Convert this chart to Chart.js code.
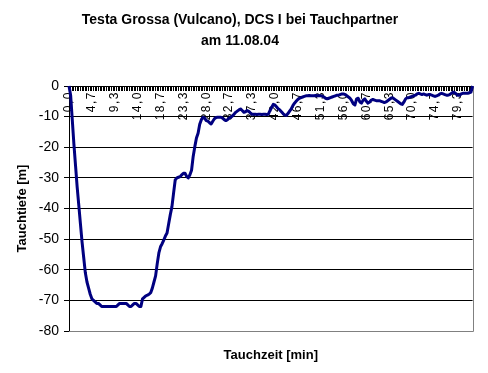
<!DOCTYPE html>
<html>
<head>
<meta charset="utf-8">
<script src="https://cdn.jsdelivr.net/npm/chart.js"></script>
<style>
  html, body { margin: 0; padding: 0; background: #fff; }
</style>
</head>
<body>
<canvas id="diveChart" width="488" height="373"></canvas>
<script>
// depth in metres, one sample every 20 s
const depth = [
  0, -3, -11, -19, -26, -33, -39, -45, -51, -56, -61, -64, -66, -68, -69.5, -70, -70.5, -71, -71, -71.5, -72,
  -72, -72, -72, -72, -72, -72, -72, -72, -72,
  -71.5, -71, -71, -71, -71, -71, -71.5, -72, -72, -71.5, -71, -71, -71.5, -72, -72,
  -69.5, -69, -68.5, -68.3, -68, -67.5, -66, -64, -62, -58, -54.5, -52.5, -51.5, -50.3, -49, -48,
  -45, -42, -39.4, -35, -30.7, -30, -29.8, -29.6, -29, -28.5, -28.5, -29.5, -30, -29, -27.5,
  -23, -19.8, -17, -15.4, -12.5, -11, -10.2, -10.5, -11.3, -11.5, -12, -12.4, -11.5, -10.7, -10.3,
  -10.2, -10.2, -10.2, -10.5, -11, -11.3, -11, -10.5, -10.2, -9.8, -9.2, -8.6, -8.2, -7.8, -7.5,
  -8, -8.6, -8.4, -8, -8.3, -8.8, -9.2, -9.2, -9.2, -9.3, -9.2, -9.2, -9.3, -9.2, -9.2, -9.3,
  -9.2, -8, -7, -6, -6.2, -6.8, -7.4, -7.8, -8.4, -9, -9.5, -9.6, -9, -8.2, -7.5, -6.4, -5.6, -5, -4.4, -4, -3.8, -3.6, -3.4,
  -3.2, -3.2, -3.1, -3.2, -3.2, -3.2, -3.1, -3.2, -3.2, -3.2, -3.3,
  -3.6, -4, -4.2, -4, -3.8, -3.6, -3.4, -3.2, -3, -3, -2.8, -2.6, -2.6, -2.8, -3.2, -3.6, -4,
  -4.8, -5.8, -6.2, -4.2, -4, -5.2, -5.6, -4.6, -4.2, -5, -5.6, -5.2, -4.6, -4.4, -4.6, -4.8,
  -4.8, -4.8, -5, -5.2, -5.4, -5.2, -4.8, -4.4, -4, -3.8, -4.2, -4.6, -5, -5.4, -5.8, -6,
  -5.2, -4.2, -3.8, -3.8, -3.6, -3.4, -3.2, -3, -2.6, -2.4, -2.6, -2.8, -2.6, -2.8, -3,
  -2.8, -2.8, -3, -3.2, -3.4, -3.2, -3, -2.6, -2.4, -2.6, -2.8, -3, -3, -2.8, -2.4,
  -2, -2.2, -2.6, -3, -3, -2.6, -2.4, -2.4, -2.4, -2.4, -2.2, -2, 0
];
// time axis in minutes (German decimal comma)
const times = depth.map((d, i) => (i / 3).toFixed(1).replace('.', ','));
const labelStep = 14;

const titleLines = ['Testa Grossa (Vulcano), DCS I bei Tauchpartner', 'am 11.08.04'];
const yTitle = 'Tauchtiefe [m]';
const xTitle = 'Tauchzeit [min]';

const FONT = '"Liberation Sans", Arial, sans-serif';
Chart.defaults.font.family = FONT;
Chart.defaults.color = '#000';

// grey plot border (right + bottom) and the x axis title under the plot
const frame = {
  id: 'frame',
  beforeDatasetsDraw(chart) {
    const { ctx, chartArea: a } = chart;
    ctx.save();
    ctx.strokeStyle = '#808080';
    ctx.lineWidth = 1;
    ctx.beginPath();
    ctx.moveTo(Math.round(a.right) + 0.5, a.top);
    ctx.lineTo(Math.round(a.right) + 0.5, Math.round(a.bottom) + 0.5);
    ctx.lineTo(a.left, Math.round(a.bottom) + 0.5);
    ctx.stroke();
    ctx.font = 'bold 13px ' + FONT;
    ctx.fillStyle = '#000';
    ctx.textAlign = 'center';
    ctx.textBaseline = 'middle';
    ctx.fillText(xTitle, (a.left + a.right) / 2, 355);
    ctx.restore();
  }
};

// old Excel spreads the rotated time labels a bit
function spreadLabels(scale) {
  if (scale._spread) return;
  scale._spread = true;
  const orig = scale.drawLabels.bind(scale);
  scale.drawLabels = function (area) {
    this.ctx.save();
    this.ctx.letterSpacing = '1.5px';
    orig(area);
    this.ctx.restore();
  };
}

new Chart(document.getElementById('diveChart'), {
  type: 'line',
  data: {
    labels: times,
    datasets: [{
      data: depth,
      borderColor: '#000080',
      borderWidth: 3,
      pointRadius: 0,
      tension: 0,
      borderJoinStyle: 'round',
      clip: 4
    }]
  },
  plugins: [frame],
  options: {
    responsive: false,
    animation: false,
    devicePixelRatio: 1,
    layout: { padding: { left: 0, right: 8, top: 0, bottom: 42 } },
    plugins: {
      legend: { display: false },
      tooltip: { enabled: false },
      title: {
        display: true,
        text: titleLines,
        color: '#000',
        font: { size: 14, weight: 'bold', lineHeight: '21px' },
        padding: { top: 10, bottom: 34 }
      }
    },
    scales: {
      x: {
        type: 'category',
        position: { y: 0 },
        offset: false,
        afterUpdate: spreadLabels,
        grid: { drawOnChartArea: false, drawTicks: true, tickLength: 4, color: '#000', tickColor: '#000', lineWidth: 1 },
        border: { display: true, color: '#000', width: 1 },
        ticks: {
          autoSkip: false,
          minRotation: 90,
          maxRotation: 90,
          padding: 1,
          font: { size: 12 },
          callback: (v, i) => (i % labelStep === 0 ? times[i] : '')
        }
      },
      y: {
        min: -80,
        max: 0,
        afterFit: s => { s.width = 69; },
        grid: {
          color: c => (c.tick && c.tick.value === -80 ? '#808080' : '#000'),
          tickColor: '#000',
          tickLength: 5
        },
        border: { display: true, color: '#000', width: 1 },
        ticks: {
          stepSize: 10,
          padding: 5,
          font: { size: 14 },
          callback: v => String(v)
        },
        title: {
          display: true,
          text: yTitle,
          font: { size: 13, weight: 'bold' },
          padding: { top: 15, bottom: 0 }
        }
      }
    }
  }
});
</script>
</body>
</html>
